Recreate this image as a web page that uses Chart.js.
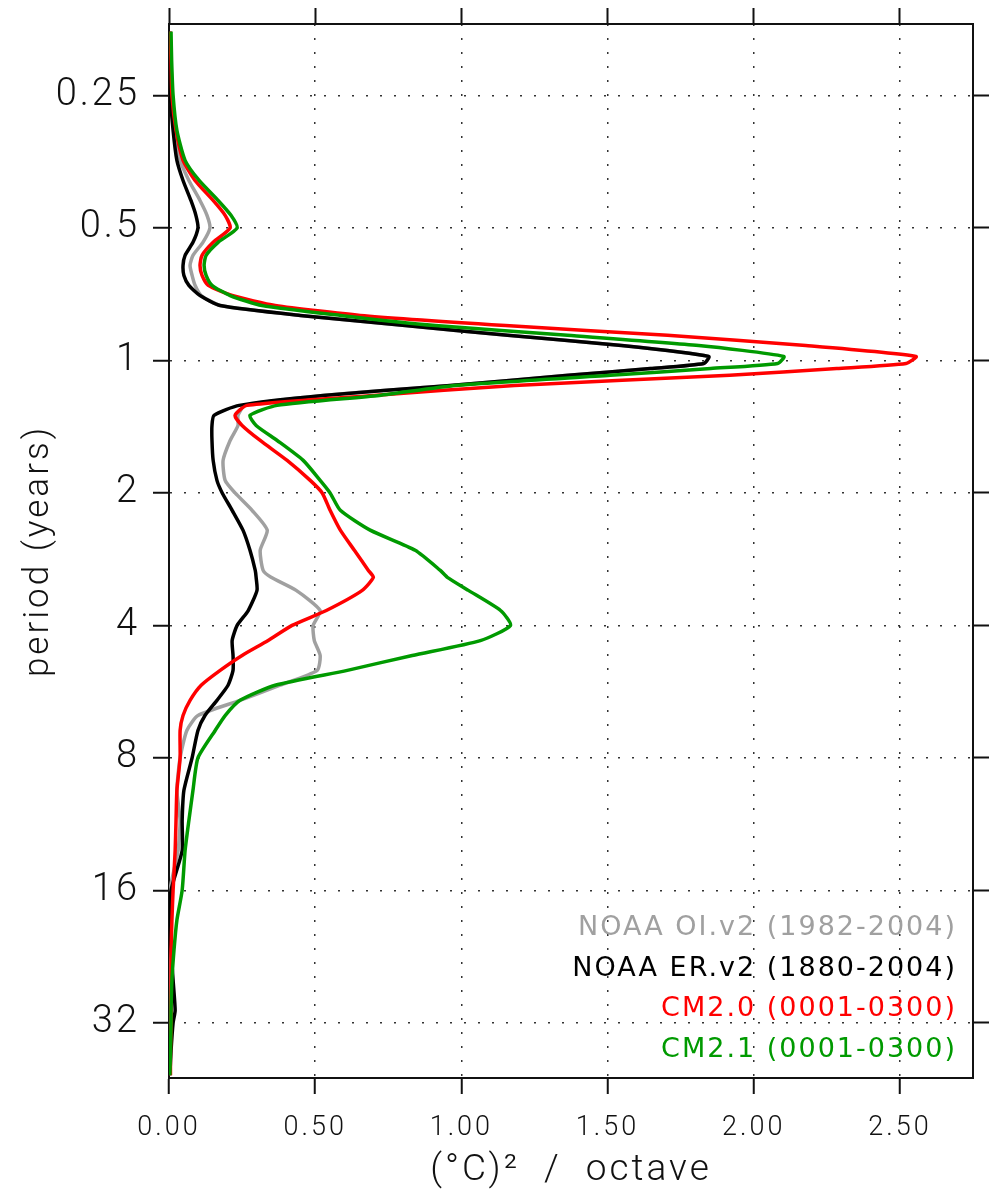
<!DOCTYPE html>
<html>
<head>
<meta charset="utf-8">
<script src="https://cdn.jsdelivr.net/npm/chart.js@4"></script>
<style>
  html, body { margin: 0; padding: 0; background: #fff; }
  #wrap { width: 994px; height: 1195px; }
</style>
</head>
<body>
<div id="wrap"><canvas id="spectrumChart" width="994" height="1195"></canvas></div>
<script>
// period (years), shared by all four spectra
const periods = [0.179, 0.208, 0.25, 0.30, 0.351, 0.39, 0.433, 0.468, 0.50, 0.539,
  0.577, 0.608, 0.641, 0.675, 0.712, 0.75, 0.79, 0.833, 0.877, 0.925,
  0.979, 1.016, 1.043, 1.081, 1.14, 1.201, 1.265, 1.333, 1.405, 1.52,
  1.687, 1.873, 2.0, 2.19, 2.43, 2.70, 3.0, 3.11, 3.33, 3.70,
  4.0, 4.33, 4.68, 5.06, 5.47, 5.92, 6.41, 6.93, 8.0, 9.48,
  11.1, 13.0, 16, 18.7, 21.9, 25.6, 30.0, 32, 37.0, 42.1];

// power, (degC)^2 / octave
const oiv2 = [0.003, 0.005, 0.007, 0.017, 0.038, 0.068, 0.106, 0.130, 0.140, 0.116,
  0.082, 0.072, 0.079, 0.089, 0.110, 0.175, 0.449, 0.808, 1.158, 1.548,
  1.846, 1.829, 1.647, 1.366, 0.962, 0.527, 0.260, 0.236, 0.236, 0.209,
  0.185, 0.192, 0.226, 0.284, 0.336, 0.312, 0.322, 0.349, 0.435, 0.517,
  0.493, 0.497, 0.517, 0.507, 0.380, 0.243, 0.099, 0.061, 0.038, 0.027,
  0.038, 0.031, 0.003, 0.002, 0.002, 0.002, 0.002, 0.002, 0.002, 0.002];
const erv2 = [0.003, 0.005, 0.005, 0.014, 0.027, 0.048, 0.075, 0.092, 0.099, 0.082,
  0.055, 0.048, 0.051, 0.068, 0.106, 0.175, 0.449, 0.808, 1.158, 1.548,
  1.846, 1.829, 1.647, 1.366, 0.962, 0.527, 0.240, 0.154, 0.147, 0.147,
  0.151, 0.164, 0.182, 0.216, 0.253, 0.277, 0.295, 0.298, 0.301, 0.271,
  0.233, 0.216, 0.219, 0.219, 0.202, 0.164, 0.123, 0.099, 0.079, 0.051,
  0.045, 0.045, 0.007, 0.003, 0.007, 0.014, 0.021, 0.014, 0.007, 0.003];
const cm20 = [0.003, 0.007, 0.010, 0.024, 0.048, 0.089, 0.151, 0.192, 0.209, 0.151,
  0.113, 0.106, 0.113, 0.134, 0.216, 0.363, 0.654, 1.151, 1.705, 2.178,
  2.555, 2.521, 2.284, 1.918, 1.182, 0.699, 0.267, 0.226, 0.250, 0.312,
  0.404, 0.483, 0.524, 0.551, 0.586, 0.634, 0.682, 0.699, 0.661, 0.538,
  0.421, 0.339, 0.250, 0.175, 0.110, 0.072, 0.048, 0.038, 0.038, 0.027,
  0.024, 0.021, 0.014, 0.010, 0.007, 0.007, 0.007, 0.007, 0.005, 0.005];
const cm21 = [0.007, 0.009, 0.014, 0.027, 0.055, 0.103, 0.168, 0.212, 0.233, 0.168,
  0.127, 0.120, 0.127, 0.147, 0.209, 0.318, 0.586, 0.911, 1.363, 1.812,
  2.103, 2.082, 1.853, 1.510, 0.979, 0.719, 0.370, 0.277, 0.298, 0.370,
  0.459, 0.517, 0.551, 0.586, 0.688, 0.842, 0.928, 0.952, 1.024, 1.134,
  1.168, 1.065, 0.832, 0.610, 0.363, 0.243, 0.192, 0.158, 0.099, 0.082,
  0.068, 0.055, 0.045, 0.027, 0.017, 0.010, 0.007, 0.007, 0.005, 0.003];

const seriesLabels = ['NOAA OI.v2 (1982-2004)', 'NOAA ER.v2 (1880-2004)', 'CM2.0 (0001-0300)', 'CM2.1 (0001-0300)'];
const seriesColors = ['#a0a0a0', '#000000', '#ff0000', '#009a00'];
const periodTicks = [0.25, 0.5, 1, 2, 4, 8, 16, 32];
const powerTicks = [0, 0.5, 1, 1.5, 2, 2.5];

const ink = '#111';

function toPoints(values) {
  return values.map((v, i) => ({ x: v, y: periods[i] }));
}

// the original lettering is wide, so space the glyphs out a bit
const wideText = {
  id: 'wideText',
  beforeDraw(chart) {
    chart.ctx.letterSpacing = '3px';
  }
};

// legend text in the lower right corner, coloured like the lines
const cornerLegend = {
  id: 'cornerLegend',
  afterDatasetsDraw(chart) {
    const ctx = chart.ctx;
    const area = chart.chartArea;
    ctx.save();
    ctx.font = '27px "DejaVu Sans"';
    ctx.letterSpacing = '2px';
    ctx.textAlign = 'right';
    ctx.textBaseline = 'middle';
    chart.data.datasets.forEach((ds, i) => {
      ctx.fillStyle = ds.borderColor;
      ctx.fillText(ds.label, area.right - 16, area.bottom - 150 + i * 40.7);
    });
    ctx.restore();
  }
};

const ctx = document.getElementById('spectrumChart').getContext('2d');
const spectrumChart = new Chart(ctx, {
  type: 'scatter',
  data: {
    datasets: [oiv2, erv2, cm20, cm21].map((vals, i) => ({
      label: seriesLabels[i],
      data: toPoints(vals),
      showLine: true,
      borderColor: seriesColors[i],
      backgroundColor: seriesColors[i],
      borderWidth: 3.5,
      pointRadius: 0,
      tension: 0.2,
      order: 4 - i
    }))
  },
  options: {
    responsive: false,
    animation: false,
    layout: { padding: 0 },
    plugins: { legend: { display: false }, tooltip: { enabled: false } },
    scales: {
      x: {
        type: 'linear', position: 'bottom', min: 0, max: 2.75,
        afterBuildTicks: s => { s.ticks = powerTicks.map(v => ({ value: v })); },
        afterFit: s => { s.height = 117; s.paddingLeft = 0; s.paddingRight = 0; },
        ticks: { callback: v => v.toFixed(2), font: { family: 'Roboto', size: 27, weight: '300' },
          color: ink, padding: 18, maxRotation: 0 },
        grid: { color: '#333', lineWidth: 1.5, tickLength: 16, tickColor: ink, tickWidth: 2, tickBorderDash: [] },
        border: { color: ink, width: 2, dash: [2, 12] },
        title: { display: true, text: '(°C)²  /  octave', color: ink,
          font: { family: 'Roboto', size: 37, weight: '300' }, padding: { top: 0, bottom: 2 } }
      },
      xTop: {
        type: 'linear', position: 'top', min: 0, max: 2.75,
        afterBuildTicks: s => { s.ticks = powerTicks.map(v => ({ value: v })); },
        afterFit: s => { s.height = 24; s.paddingLeft = 0; s.paddingRight = 0; },
        ticks: { display: false },
        grid: { drawOnChartArea: false, tickLength: 16, tickColor: ink, tickWidth: 2 },
        border: { color: ink, width: 2 }
      },
      y: {
        type: 'logarithmic', position: 'left', reverse: true, min: 0.172, max: 42.7,
        afterBuildTicks: s => { s.ticks = periodTicks.map(v => ({ value: v })); },
        afterFit: s => { s.width = 169; s.paddingTop = 0; s.paddingBottom = 0; },
        ticks: { callback: v => String(v), font: { family: 'Roboto', size: 38, weight: '300' }, color: ink, padding: 13 },
        grid: { color: '#333', lineWidth: 1.5, tickLength: 16, tickColor: ink, tickWidth: 2, tickBorderDash: [] },
        border: { color: ink, width: 2, dash: [2, 12] },
        title: { display: true, text: 'period (years)', color: ink,
          font: { family: 'Roboto', size: 35, weight: '300' }, padding: { top: 18, bottom: 0 } }
      },
      yRight: {
        type: 'logarithmic', position: 'right', reverse: true, min: 0.172, max: 42.7,
        afterBuildTicks: s => { s.ticks = periodTicks.map(v => ({ value: v })); },
        afterFit: s => { s.width = 21; s.paddingTop = 0; s.paddingBottom = 0; },
        ticks: { display: false },
        grid: { drawOnChartArea: false, tickLength: 16, tickColor: ink, tickWidth: 2 },
        border: { color: ink, width: 2 }
      }
    }
  },
  plugins: [wideText, cornerLegend]
});
</script>
</body>
</html>
